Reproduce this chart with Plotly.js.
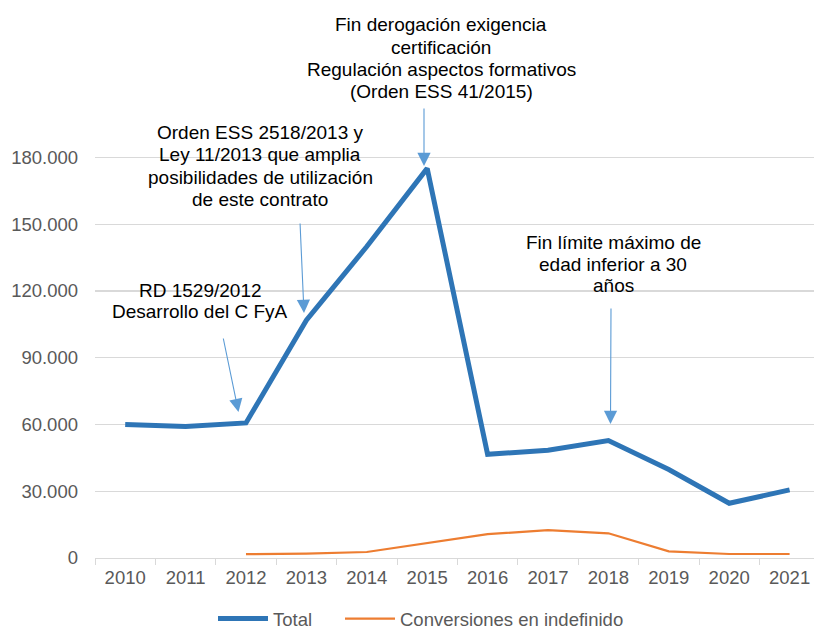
<!DOCTYPE html>
<html>
<head>
<meta charset="utf-8">
<script src="https://cdn.plot.ly/plotly-3.0.1.min.js"></script>
<style>html,body{margin:0;padding:0;background:#fff;}#chart{width:814px;height:630px;}</style>
</head>
<body>
<div id="chart"></div>
<script>
// ---- data ----
const years = ['2010','2011','2012','2013','2014','2015','2016','2017','2018','2019','2020','2021'];
const total = [60000, 59100, 60700, 106900, 140000, 175100, 46600, 48400, 52800, 39800, 24600, 30600];
const conversiones = [null, null, 1700, 2000, 2700, 6700, 10700, 12500, 11100, 3000, 1800, 1800];
const seriesNames = ['Total', 'Conversiones en indefinido'];
const yTicks = [0, 30000, 60000, 90000, 120000, 150000, 180000];

// ---- layout helpers (pixel -> paper) ----
const L = 95, R = 814, T = 150, B = 558;
const px = x => (x - L) / (R - L);
const py = y => (B - y) / (B - T);
const FONT = '"Liberation Sans", Arial, sans-serif';

const traces = [
  {x: years, y: total, name: seriesNames[0], type: 'scatter', mode: 'lines',
   line: {color: '#2E75B6', width: 5}, cliponaxis: false, legend: 'legend'},
  {x: years, y: conversiones, name: seriesNames[1], type: 'scatter', mode: 'lines',
   line: {color: '#ED7D31', width: 2.2}, connectgaps: false, cliponaxis: false, legend: 'legend2'}
];

function textLines(lines, cx, ys) {
  return lines.map((t, i) => ({
    xref: 'paper', yref: 'paper', x: px(cx), y: py(ys[i]),
    xanchor: 'center', yanchor: 'middle', text: t, showarrow: false,
    font: {family: FONT, size: 19, color: '#000'}
  }));
}
function arrow(tipX, tipY, tailX, tailY) {
  return {xref: 'paper', yref: 'paper', x: px(tipX), y: py(tipY), ax: tailX - tipX, ay: tailY - tipY,
    text: '', showarrow: true, arrowhead: 2, arrowsize: 2.4, arrowwidth: 1.1, arrowcolor: '#5B9BD5', standoff: 0};
}

const annotations = [].concat(
  textLines(['RD 1529/2012', 'Desarrollo del C FyA'], 200, [290, 311]),
  textLines(['Orden ESS 2518/2013 y', 'Ley 11/2013 que amplia', 'posibilidades de utilización', 'de este contrato'], 260, [133, 155, 177, 199]),
  textLines(['Fin derogación exigencia', 'certificación', 'Regulación aspectos formativos', '(Orden ESS 41/2015)'], 441, [25, 47, 69, 91]),
  textLines(['Fin límite máximo de', 'edad inferior a 30', 'años'], 613, [242, 264, 285]),
  [arrow(238.5, 412, 223, 337), arrow(304, 313, 300, 222), arrow(424, 166, 424, 107), arrow(610.5, 424, 611, 307)]
);

const boxes = [[107, 278, 293, 322], [140, 118, 381, 210], [517, 220, 709, 298]].map(b => ({
  type: 'rect', xref: 'paper', yref: 'paper', x0: px(b[0]), x1: px(b[2]), y0: py(b[3]), y1: py(b[1]),
  fillcolor: '#fff', line: {width: 0}, layer: 'between'
}));

const legendStyle = {orientation: 'h', yanchor: 'middle', xanchor: 'left',
  font: {family: FONT, size: 18.5, color: '#595959'}, itemwidth: 50, bgcolor: 'rgba(0,0,0,0)'};

const layout = {
  width: 814, height: 630,
  margin: {l: L, r: 814 - R, t: T, b: 630 - B, pad: 0, autoexpand: false},
  paper_bgcolor: '#fff', plot_bgcolor: '#fff',
  separators: ',.',
  font: {family: FONT, color: '#595959', size: 18},
  showlegend: true,
  legend: Object.assign({}, legendStyle, {x: px(213), y: py(619)}),
  legend2: Object.assign({}, legendStyle, {x: px(340), y: py(619)}),
  xaxis: {type: 'category', range: [-0.5, -0.5 + (R - L) / 60.4], tickson: 'boundaries',
    ticks: 'outside', ticklen: 6, tickcolor: '#d9d9d9', tickwidth: 1,
    showline: true, linecolor: '#d9d9d9', linewidth: 1.3, showgrid: false, zeroline: false,
    tickfont: {family: FONT, size: 18.5, color: '#595959'}, ticklabelstandoff: 2, fixedrange: true},
  yaxis: {range: [0, 408 / 400.5 * 180000], tickvals: yTicks, tickformat: ',d',
    showgrid: true, gridcolor: '#d9d9d9', gridwidth: 1.3, zeroline: false, showline: false, ticks: '',
    tickfont: {family: FONT, size: 18.5, color: '#595959'}, ticklabelstandoff: 16, fixedrange: true},
  annotations: annotations,
  shapes: boxes
};

Plotly.newPlot('chart', traces, layout, {displayModeBar: false, staticPlot: true});
</script>
</body>
</html>
